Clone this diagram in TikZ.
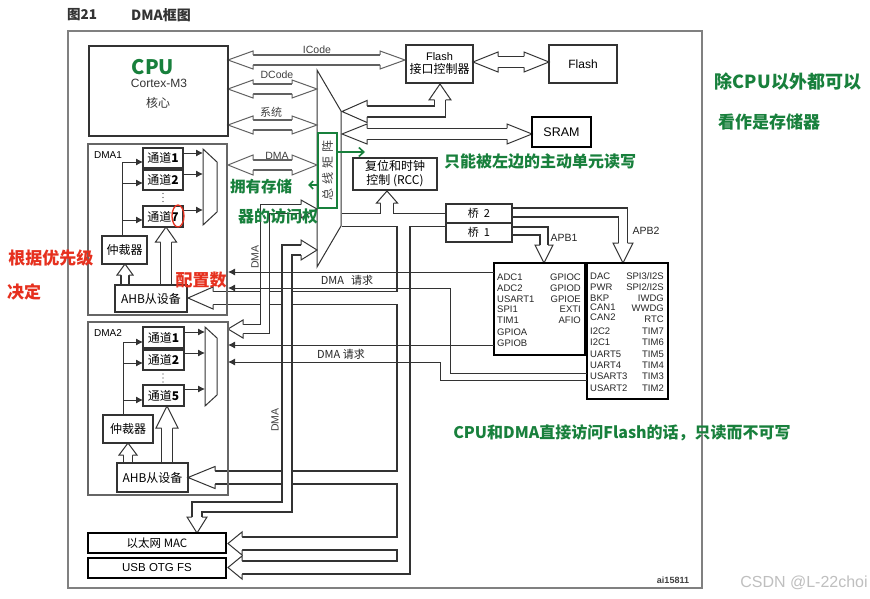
\documentclass[tikz,border=0pt]{standalone}
\usepackage{fontspec}
\setmainfont{Liberation Sans}
\newfontfamily\cjk{Noto Sans CJK SC}
\usetikzlibrary{arrows.meta}
\definecolor{hgreen}{HTML}{18803C}
\definecolor{hred}{HTML}{E6301E}
\colorlet{ln}{black!80}
\colorlet{lg}{black!62}
\newcommand\fsz[1]{\fontsize{#1}{#1}\selectfont}
% hollow arrow head: [colour]{tip}{angle}{length}{head half width}{shaft half width}
\newcommand\bushead[6][ln]{%
 \begin{scope}[shift={(#2)},rotate=#3]
  \fill[white] (0,0)--(-#4,#5)--(-#4,-#5)--cycle;
  \draw[#1,line width=1pt,line join=miter] (-#4,#6)--(-#4,#5)--(0,0)--(-#4,-#5)--(-#4,-#6);
 \end{scope}}
% box from corners: [style]{x1}{y1}{x2}{y2}{name}{text}
\newcommand\mkbox[7][bx]{\node[#1,minimum width={#4-#2},minimum height={#5-#3}] (#6) at ({(#2+#4)/2},{(#3+#5)/2}) {#7};}
\tikzset{
 % argument: inner white width = 2*hw - 1.2
 bus/.style={draw=ln,line width=1.2pt,double=white,double distance=#1pt,line join=miter},
 busg/.style={draw=lg,line width=1.2pt,double=white,double distance=#1pt,line join=miter},
 bx/.style={draw=ln,line width=1.1,inner sep=0pt,outer sep=0pt,align=center},
 tb/.style={draw=black,line width=1.8,inner sep=0pt,outer sep=0pt,align=center},
 ar/.style={draw=ln,line width=0.9,-{Latex[length=7pt,width=7pt]}},
 pt/.style={font=\fsz{9.5},inner sep=0pt,text=black!85},
 lb/.style={font=\fsz{10.5},text=black!75,inner sep=1pt},
 hg/.style={text=hgreen,font=\cjk\bfseries\fsz{#1},inner sep=0pt},
 hr/.style={text=hred,font=\cjk\bfseries\fsz{#1},inner sep=0pt},
}
\begin{document}
\begin{tikzpicture}[x=1pt,y=-1pt,font=\fsz{10.5}]
\useasboundingbox (0,0) rectangle (870,599);
\fill[white] (0,0) rectangle (870,599);
\node[font=\cjk\bfseries\fsz{13.5},text=black!80] (title1) at (82,15) {图21};
\node[font=\cjk\bfseries\fsz{14},text=black!80] (title2) at (161,15) {DMA框图};
\draw[black!50,line width=2] (68,31) rectangle (702,588);

% bus matrix
\draw[ln,line width=1,fill=white] (317,70) -- (341,111) -- (341,226) -- (317,267) -- cycle;

% CPU side buses (hw 5)
\draw[busg=8.8] (252,60) -- (381,60);
\bushead[lg]{228,60}{180}{25}{9}{5}\bushead[lg]{405,60}{0}{25}{9}{5}
\draw[busg=8.8] (252,89) -- (293,89);
\bushead[lg]{228,89}{180}{25}{9}{5}\bushead[lg]{317,89}{0}{25}{9}{5}
\draw[busg=8.8] (252,125) -- (293,125);
\bushead[lg]{228,125}{180}{25}{9}{5}\bushead[lg]{317,125}{0}{25}{9}{5}
\draw[busg=8.8] (252,165) -- (293,165);
\bushead[lg]{228,165}{180}{25}{10}{5}\bushead[lg]{317,165}{0}{25}{10}{5}

% flash / sram buses (hw 5.5)
\draw[bus=9.8] (497,62) -- (525,62);
\bushead{473,62}{180}{25}{10}{5.5}\bushead{549,62}{0}{25}{10}{5.5}
\draw[bus=9.8] (366,111.5) -- (440,111.5) -- (440,99);
\bushead{342,111.5}{180}{25}{11}{5.5}\bushead{440,84}{90}{16}{11}{5.5}
\draw[bus=9.8] (366,134) -- (508,134);
\bushead{342,134}{180}{25}{10}{5.5}\bushead{532,134}{0}{25}{10}{5.5}

% AHB system bus (hw 6.5)
\draw[bus=11.8] (342,220) -- (446,220) (387,220) -- (387,202)
  (403.5,220) -- (403.5,567.5) -- (241,567.5)
  (403.5,298) -- (212,298) (403.5,477.5) -- (214,477.5) (403.5,543.5) -- (241,543.5);
\bushead{387,191}{90}{12}{10.5}{6.5}
\bushead{188,298}{180}{25}{11}{6.5}
\bushead{188,477.5}{180}{27}{11}{6.5}
\bushead{228,543.5}{180}{14}{11.5}{6.5}
\bushead{228,567.5}{180}{14}{11.5}{6.5}

% DMA2 master bus (hw 4.5)
\draw[bus=7.8] (302,209) -- (265,209) -- (265,329) -- (242,329);
\bushead{317,209}{0}{16}{9}{4.5}\bushead{228,329}{180}{15}{9}{4.5}
% Ethernet master bus (hw 5)
\draw[bus=8.8] (302,250) -- (287,250) -- (287,507) -- (197,507) -- (197,518);
\bushead{317,250}{0}{16}{10}{5}\bushead{197,533}{270}{16}{10}{5}
% APB buses
\draw[bus=7.8] (512,212.5) -- (623,212.5) -- (623,244);
\bushead{623,263}{270}{20}{10}{4.5}
\draw[bus=6.8] (512,231) -- (544,231) -- (544,246);
\bushead{544,263}{270}{18}{9}{4}

% DMA internal hollow arrows
\draw[bus=6.8] (125,285) -- (125,274); \bushead{125,264}{90}{11}{8}{4}
\draw[bus=9.8] (166,285) -- (166,241); \bushead{166,227}{90}{15}{10.5}{5.5}
\draw[bus=7.8] (128,463) -- (128,454); \bushead{128,443}{90}{12}{9}{4.5}
\draw[bus=9.8] (167,463) -- (167,427); \bushead{167,406}{90}{22}{11}{5.5}

% boxes
\mkbox{89}{46}{228}{136}{cpu}{}
\node[font=\fsz{12},text=black!80] (cortex) at (159,83) {Cortex-M3};
\node[font=\cjk\fsz{12},text=black!80] (hexin) at (158,103) {核心};
\mkbox[bx,font=\fsz{11}]{406}{45}{473}{83}{fctl}{Flash\\[2pt]{\cjk\fsz{12}接口控制器}}
\mkbox[bx,font=\fsz{12}]{549}{45}{617}{83}{flash}{Flash}
\mkbox[tb,font=\fsz{12.5}]{532}{117}{591}{147}{sram}{SRAM}
\mkbox[bx,font=\cjk\fsz{12}]{353}{158}{437}{190}{rcc}{复位和时钟\\[2pt]控制 (RCC)}
\mkbox[bx,font=\cjk\fsz{11}]{446}{204}{512}{223}{br2}{桥\ \ 2}
\mkbox[bx,font=\cjk\fsz{11}]{446}{223}{512}{242}{br1}{桥\ \ 1}

% DMA1
\mkbox[bx,draw=black!60]{88}{144}{227}{315}{dma1}{}
\node[font=\fsz{10}] (dma1l) at (108,155) {DMA1};
\mkbox[bx,font=\cjk\fsz{12}]{143}{148}{183}{168}{c11}{通道\textbf{1}}
\mkbox[bx,font=\cjk\fsz{12}]{143}{170}{183}{190}{c12}{通道\textbf{2}}
\mkbox[bx,font=\cjk\fsz{12}]{143}{206}{183}{227}{c17}{通道\textbf{7}}
\mkbox[bx,font=\cjk\fsz{12}]{102}{236}{147}{264}{arb1}{仲裁器}
\mkbox[bx,font=\cjk\fsz{12}]{115}{285}{187}{312}{ahb1}{AHB从设备}
\draw[ln,line width=1] (203,149) -- (217,162) -- (217,212) -- (203,225) -- cycle;
\draw[ln,line width=0.9] (122,236) -- (122,162);
\foreach \y in {162,183,220} \draw[ar] (122,\y) -- (143,\y);
\foreach \y in {153,174,210} \draw[ar] (183,\y) -- (203,\y);
\foreach \y in {193.5,197.5,201.5} \fill[ln] (163,\y) circle (0.7);

% DMA2
\mkbox[bx,draw=black!60]{88}{322}{228}{495}{dma2}{}
\node[font=\fsz{10}] (dma2l) at (108,333) {DMA2};
\mkbox[bx,font=\cjk\fsz{12}]{143}{327}{184}{348}{c21}{通道\textbf{1}}
\mkbox[bx,font=\cjk\fsz{12}]{143}{350}{184}{370}{c22}{通道\textbf{2}}
\mkbox[bx,font=\cjk\fsz{12}]{143}{385}{184}{406}{c25}{通道\textbf{5}}
\mkbox[bx,font=\cjk\fsz{12}]{103}{415}{153}{443}{arb2}{仲裁器}
\mkbox[bx,font=\cjk\fsz{12}]{117}{463}{188}{492}{ahb2}{AHB从设备}
\draw[ln,line width=1] (205,327) -- (217,338) -- (217,395) -- (205,406) -- cycle;
\draw[ln,line width=0.9] (123,415) -- (123,342);
\foreach \y in {342,363,400} \draw[ar] (123,\y) -- (143,\y);
\foreach \y in {332,353,389} \draw[ar] (184,\y) -- (205,\y);
\foreach \y in {374,378,382} \fill[ln] (163,\y) circle (0.7);

% Ethernet / USB
\mkbox[tb,font=\cjk\fsz{11.5}]{88}{533}{226}{553}{eth}{以太网 MAC}
\mkbox[tb,font=\fsz{11.5}]{88}{558}{226}{578}{usb}{USB OTG FS}

% peripheral boxes
\mkbox[tb]{494}{263}{585}{355}{p1}{}
\mkbox[tb]{587}{263}{668}{399}{p2}{}
\foreach \t/\y [count=\i] in {ADC1/277,ADC2/288,USART1/299,SPI1/309.5,TIM1/320.5,GPIOA/332,GPIOB/343}
  \node[pt,anchor=west] (pa\i) at (497,\y) {\t};
\foreach \t/\y [count=\i] in {GPIOC/277,GPIOD/288,GPIOE/299,EXTI/309.5,AFIO/320.5}
  \node[pt,anchor=east] (pb\i) at (581,\y) {\t};
\foreach \t/\y [count=\i] in {DAC/276,PWR/287,BKP/298,CAN1/307.5,CAN2/317.5,I2C2/331,I2C1/342.5,UART5/354,UART4/365,USART3/376.5,USART2/388}
  \node[pt,anchor=west] (pc\i) at (590,\y) {\t};
\foreach \t/\y [count=\i] in {{SPI3/I2S}/276,{SPI2/I2S}/287,IWDG/298,WWDG/308.5,RTC/319.5,TIM7/331.5,TIM6/342.5,TIM5/354,TIM4/365.5,TIM3/376.5,TIM2/388}
  \node[pt,anchor=east] (pd\i) at (664,\y) {\t};

% DMA request lines
\draw[ar] (p1.west |- 0,272) -- (228,272);
\draw[ar] (p2.west |- 0,373) -- (450,373) -- (450,288) -- (228,288);
\draw[ar] (p1.west |- 0,345) -- (228,345);
\draw[ar] (p2.west |- 0,380) -- (440,380) -- (440,362) -- (228,362);

% labels
\node[lb] (icode) at (317,50) {ICode};
\node[lb] (dcode) at (277,75) {DCode};
\node[lb,font=\cjk\fsz{11}] (xitong) at (271,112) {系统};
\node[lb] (dmab) at (277,156) {DMA};
\node[lb,text=black!85] (apb1) at (564,238) {APB1};
\node[lb,text=black!85] (apb2) at (646,231) {APB2};
\node[lb,rotate=90] (d2lab) at (255,257) {DMA};
\node[lb,rotate=90] (elab) at (275,420) {DMA};
\node[lb,font=\cjk\fsz{11},text=black!85] (rq1) at (347,280) {DMA\hspace{7pt}请求};
\node[lb,font=\cjk\fsz{11},text=black!85] (rq2) at (341,354) {DMA 请求};
\node[rotate=90,font=\cjk\fsz{12},text=black!75] (bm) at (327.5,170.5) {总\hspace{4pt}线\hspace{4pt}矩\hspace{4pt}阵};
\node[font=\fsz{9}\bfseries,text=black!75] (ai) at (673,580) {ai15811};
\node[font=\fsz{16},text=black!25] (csdn) at (804,583) {CSDN @L-22choi};

% annotations
\draw[hgreen,line width=1.6] (318,133) rectangle (337,208);
\draw[hgreen,line width=1.6,-{Straight Barb[length=5pt,width=9pt]}] (337,152) -- (365,152);
\draw[hgreen,line width=1.6,-{Straight Barb[length=4pt,width=8pt]}] (317,185) -- (308,185);
\node[hg=20] (gcpu) at (153,67) {CPU};
\node[hg=18] (g1) at (788,82) {除CPU以外都可以};
\node[hg=17] (g2) at (769,122) {看作是存储器};
\node[hg=16] (g3) at (540,161) {只能被左边的主动单元读写};
\node[hg=15.5] (g4) at (261,187) {拥有存储};
\node[hg=16] (g5) at (278,216) {器的访问权};
\node[hg=16] (g6) at (622,433) {CPU和DMA直接访问Flash的话，只读而不可写};
\node[hr=17] (r1) at (51,258) {根据优先级};
\node[hr=17] (r2) at (24,292) {决定};
\node[hr=17] (r3) at (201,280) {配置数};
\draw[hred,line width=1.3] (178,216) ellipse [x radius=6, y radius=11];
\end{tikzpicture}
\end{document}
